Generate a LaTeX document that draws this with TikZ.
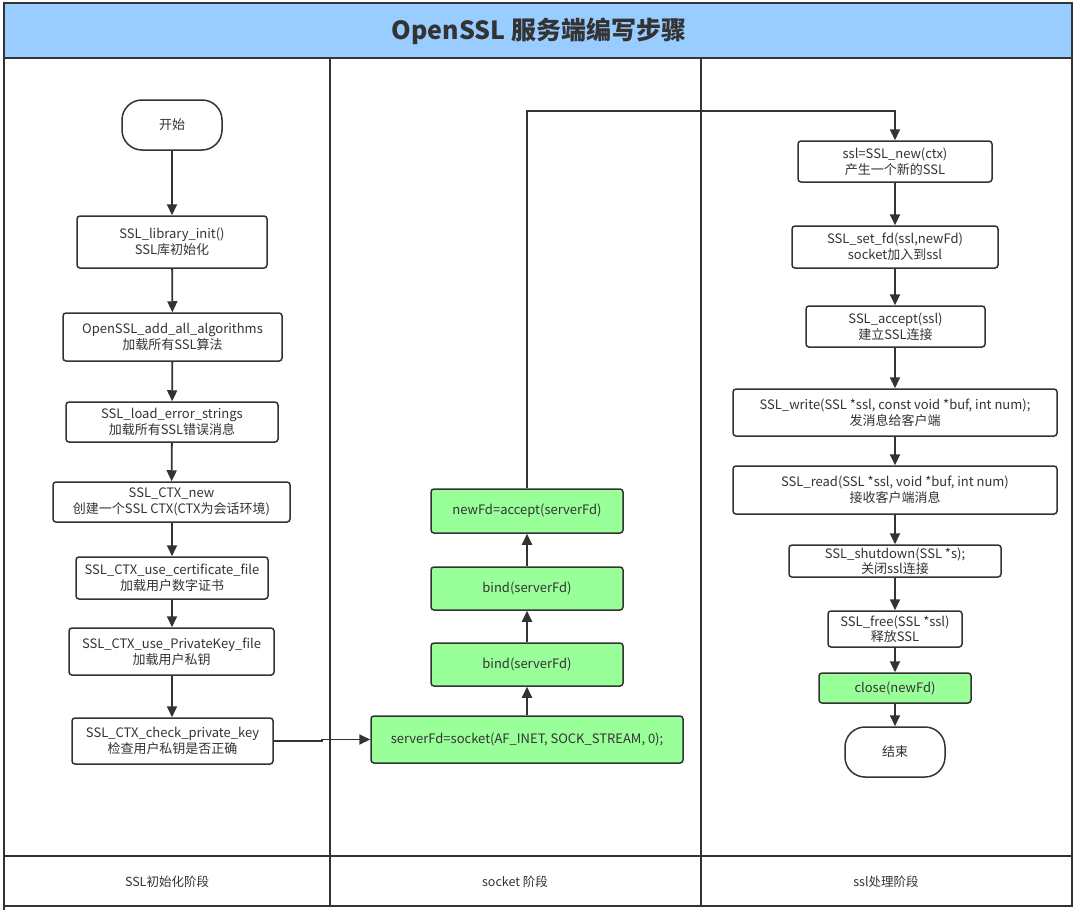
\documentclass[tikz,border=0pt]{standalone}
\usepackage{fontspec}
\setmainfont{Noto Sans CJK SC}
\usetikzlibrary{arrows.meta}
\definecolor{ln}{HTML}{333333}
\definecolor{titlebg}{HTML}{99CCFF}
\definecolor{grn}{HTML}{99FF99}
\tikzset{
  lane/.style={draw=ln, line width=1.5pt},
  box/.style={draw=ln, line width=1.5pt, rounded corners=3pt, fill=white, align=center, inner sep=0pt, text=ln, font=\fontsize{13}{16}\selectfont},
  gbox/.style={box, fill=grn},
  term/.style={box, rounded corners=20pt},
  arr/.style={draw=ln, line width=1.8pt, -{Triangle[length=11pt,width=10pt]}},
  lbl/.style={text=ln, font=\fontsize{12.5}{15}\selectfont}
}
\begin{document}
\begin{tikzpicture}[x=1pt,y=-1pt]
\useasboundingbox (0,0) rectangle (1077,910);
\fill[white] (0,0) rectangle (1077,910);
% frame
\fill[titlebg] (4,3) rectangle (1072,58);
\draw[lane] (4,3) rectangle (1072,906);
\draw[lane] (4,58) -- (1072,58);
\draw[lane] (4,856) -- (1072,856);
\draw[lane] (330,58) -- (330,906);
\draw[lane] (701,58) -- (701,906);
\draw[lane] (4,906) -- (4,910);
\node[text=ln, font=\fontsize{25}{28}\selectfont\bfseries] (title) at (539,31) {OpenSSL 服务端编写步骤};
\node[lbl] (l1) at (167,882) {SSL初始化阶段};
\node[lbl] (l2) at (515,882) {socket 阶段};
\node[lbl] (l3) at (886,882) {ssl处理阶段};
% column 1
\node[term, minimum width=100, minimum height=50] (start) at (172,125) {开始};
\node[box, minimum width=190, minimum height=52] (c1) at (172,242) {SSL\_library\_init()\\SSL库初始化};
\node[box, minimum width=219, minimum height=48] (c2) at (172.5,337) {OpenSSL\_add\_all\_algorithms\\加载所有SSL算法};
\node[box, minimum width=212, minimum height=40] (c3) at (172,422) {SSL\_load\_error\_strings\\加载所有SSL错误消息};
\node[box, minimum width=237, minimum height=40] (c4) at (171.5,502) {SSL\_CTX\_new\\创建一个SSL CTX(CTX为会话环境)};
\node[box, minimum width=192, minimum height=42] (c5) at (172,578) {SSL\_CTX\_use\_certificate\_file\\加载用户数字证书};
\node[box, minimum width=205, minimum height=47] (c6) at (171.5,651.5) {SSL\_CTX\_use\_PrivateKey\_file\\加载用户私钥};
\node[box, minimum width=201, minimum height=46] (c7) at (172.5,741) {SSL\_CTX\_check\_private\_key\\检查用户私钥是否正确};
% column 2
\node[gbox, minimum width=312, minimum height=47] (sock) at (527,739.5) {serverFd=socket(AF\_INET, SOCK\_STREAM, 0);};
\node[gbox, minimum width=192, minimum height=43] (b1) at (527,664.5) {bind(serverFd)};
\node[gbox, minimum width=192, minimum height=43] (b2) at (527,588.5) {bind(serverFd)};
\node[gbox, minimum width=192, minimum height=44] (acc) at (527,511) {newFd=accept(serverFd)};
% column 3
\node[box, minimum width=194, minimum height=41] (s1) at (895,161.5) {ssl=SSL\_new(ctx)\\产生一个新的SSL};
\node[box, minimum width=206, minimum height=42] (s2) at (895,247) {SSL\_set\_fd(ssl,newFd)\\socket加入到ssl};
\node[box, minimum width=179, minimum height=41] (s3) at (895.5,326.5) {SSL\_accept(ssl)\\建立SSL连接};
\node[box, minimum width=324, minimum height=47] (s4) at (895,412.5) {SSL\_write(SSL *ssl, const void *buf, int num);\\发消息给客户端};
\node[box, minimum width=324, minimum height=48] (s5) at (895,490) {SSL\_read(SSL *ssl, void *buf, int num)\\接收客户端消息};
\node[box, minimum width=212, minimum height=32, font=\fontsize{13}{15}\selectfont] (s6) at (895,561) {SSL\_shutdown(SSL *s);\\关闭ssl连接};
\node[box, minimum width=134, minimum height=36, font=\fontsize{13}{15}\selectfont] (s7) at (895,629) {SSL\_free(SSL *ssl)\\释放SSL};
\node[gbox, minimum width=152, minimum height=30] (cls) at (895,688) {close(newFd)};
\node[term, minimum width=100, minimum height=50] (end) at (895,752) {结束};
% connectors
\draw[arr] (start) -- (c1);
\draw[arr] (c1) -- (c2);
\draw[arr] (c2) -- (c3);
\draw[arr] (c3) -- (c4);
\draw[arr] (c4.south -| c3.south) -- (c5.north -| c3.south);
\draw[arr] (c5.south -| c3.south) -- (c6.north -| c3.south);
\draw[arr] (c6.south -| c3.south) -- (c7.north -| c3.south);
\coordinate (jog) at (322,0);
\draw[arr] (c7.east) -- (c7.east -| jog) |- (sock.west);
\draw[arr] (sock) -- (b1);
\draw[arr] (b1) -- (b2);
\draw[arr] (b2) -- (acc);
\coordinate (top) at (0,111);
\draw[arr] (acc.north) -- (acc.north |- top) -| (s1.north);
\draw[arr] (s1) -- (s2);
\draw[arr] (s2.south) -- (s3.north -| s2.south);
\draw[arr] (s3.south -| s2.south) -- (s4.north -| s2.south);
\draw[arr] (s4) -- (s5);
\draw[arr] (s5) -- (s6);
\draw[arr] (s6) -- (s7);
\draw[arr] (s7) -- (cls);
\draw[arr] (cls) -- (end);
\end{tikzpicture}
\end{document}
